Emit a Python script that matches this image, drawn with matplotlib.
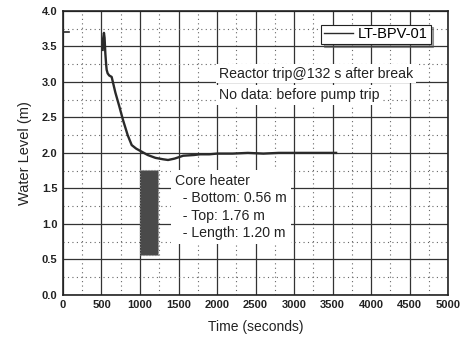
import matplotlib
matplotlib.use("Agg")
import matplotlib.pyplot as plt
from matplotlib.patches import Rectangle
from matplotlib.lines import Line2D
from matplotlib.ticker import MultipleLocator

plt.rcParams['font.family'] = ['Liberation Sans', 'DejaVu Sans']

# Data
time_s = [515, 520, 532, 540, 550, 560, 567, 580, 600, 632, 680, 730, 780, 840, 892,
          950, 1000, 1050, 1100, 1200, 1300, 1364, 1450, 1560, 1700, 1780, 1900, 2000,
          2200, 2400, 2600, 2800, 3000, 3200, 3400, 3545]
level_m = [3.45, 3.60, 3.69, 3.62, 3.40, 3.25, 3.17, 3.12, 3.09, 3.07, 2.85, 2.66, 2.46,
           2.25, 2.11, 2.06, 2.03, 2.00, 1.97, 1.93, 1.91, 1.90, 1.92, 1.96, 1.97, 1.98,
           1.98, 1.99, 1.99, 2.00, 1.99, 2.00, 2.00, 2.00, 2.00, 2.00]
series_name = "LT-BPV-01"

heater_x = [1000, 1230]
heater_bottom = 0.56
heater_top = 1.76

x_ticks = [0, 500, 1000, 1500, 2000, 2500, 3000, 3500, 4000, 4500, 5000]
y_ticks = [0.0, 0.5, 1.0, 1.5, 2.0, 2.5, 3.0, 3.5, 4.0]

fig = plt.figure(figsize=(4.63, 3.39), dpi=100)
ax = fig.add_axes([0.136, 0.130, 0.832, 0.838])

ax.set_xlim(0, 5000)
ax.set_ylim(0, 4.0)
ax.set_xticks(x_ticks)
ax.set_yticks(y_ticks)
ax.set_xticklabels([str(t) for t in x_ticks])
ax.set_yticklabels([f"{t:.1f}" for t in y_ticks])
ax.xaxis.set_minor_locator(MultipleLocator(250))
ax.yaxis.set_minor_locator(MultipleLocator(0.25))
ax.grid(which='major', color='#333333', linewidth=0.9, linestyle='-')
ax.grid(which='minor', color='#666666', linewidth=0.8, linestyle=(0, (1, 3)))
ax.tick_params(which='both', length=0, labelsize=8, pad=4)
for lbl in ax.get_xticklabels() + ax.get_yticklabels():
    lbl.set_fontweight('bold')
    lbl.set_color('#222222')
for sp in ax.spines.values():
    sp.set_linewidth(1.2)
    sp.set_color('#222222')
ax.set_axisbelow(True)

# core heater block
ax.add_patch(Rectangle((heater_x[0], heater_bottom), heater_x[1] - heater_x[0],
                       heater_top - heater_bottom, facecolor='#4a4a4a',
                       edgecolor='#888888', linewidth=0.8, linestyle=':', zorder=3))

ax.plot(time_s, level_m, color='#2a2a2a', linewidth=1.7, zorder=4)

# small mark at left edge
ax.plot([0, 80], [3.7, 3.7], color='#2a2a2a', linewidth=1.2, zorder=4)

ax.set_xlabel("Time (seconds)", fontsize=10, labelpad=7, color='#222222')
ax.set_ylabel("Water Level (m)", fontsize=10.5, labelpad=7, color='#222222')

box = dict(facecolor='white', edgecolor='none', pad=2)
ax.text(0.405, 0.779, "Reactor trip@132 s after break", transform=ax.transAxes,
        fontsize=10.2, ha='left', va='center', bbox=box, zorder=5, color='#222222')
ax.text(0.405, 0.703, "No data: before pump trip", transform=ax.transAxes,
        fontsize=10.2, ha='left', va='center', bbox=box, zorder=5, color='#222222')
ax.text(0.29, 0.425, "Core heater\n  - Bottom: 0.56 m\n  - Top: 1.76 m\n  - Length: 1.20 m",
        transform=ax.transAxes, fontsize=10.2, ha='left', va='top', linespacing=1.3,
        bbox=dict(facecolor='white', edgecolor='none', pad=3), zorder=5, color='#222222')

handle = Line2D([], [], color='#2a2a2a', linewidth=1.0)
leg = ax.legend([handle], [series_name], loc='upper right', bbox_to_anchor=(0.962, 0.962),
                fontsize=10.5, frameon=True, fancybox=False, shadow=True, handlelength=2.0,
                borderpad=0.2, handletextpad=0.3, borderaxespad=0.2)
leg.get_frame().set_edgecolor('#222222')
leg.get_frame().set_linewidth(0.8)
leg.set_zorder(6)

fig.savefig("out.png", dpi=100)
